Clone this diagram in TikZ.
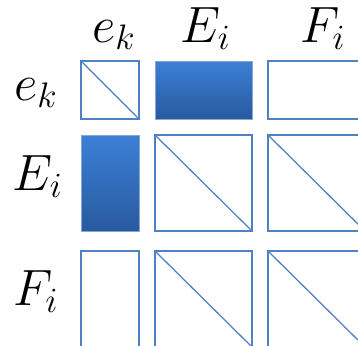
\documentclass[tikz,border=0pt]{standalone}
\usepackage{tikz}
\usetikzlibrary{shadows}
\definecolor{blocktop}{RGB}{60,128,214}
\definecolor{blockbottom}{RGB}{40,90,158}
\definecolor{edgeblue}{RGB}{79,129,196}

\begin{document}
\begin{tikzpicture}[
        fullblock/.style={rectangle, draw=edgeblue!70!white, top color=blocktop, bottom color=blockbottom, line width=0.5pt, inner sep=0pt, drop shadow={shadow xshift=0.6pt, shadow yshift=-0.6pt, opacity=0.2}},
        openblock/.style={rectangle, draw=edgeblue, fill=white, line width=0.9pt, inner sep=0pt},
        diagline/.style={draw=edgeblue, line width=0.9pt},
        hdr/.style={font=\huge, scale=1.75, transform shape, inner sep=0pt, anchor=base}
    ]
        \useasboundingbox (0,0) rectangle (8.95,-8.625);

        % Column headers
        \node (hek) [hdr] at (2.85,-1.05) {$e_k$};
        \node (hEi) [hdr] at (5.15,-1.05) {$E_i$};
        \node (hFi) [hdr] at (8.075,-1.05) {$F_i$};

        % Row headers
        \node (rek) [hdr] at (0.9,-2.5) {$e_k$};
        \node (rEi) [hdr] at (0.95,-4.75) {$E_i$};
        \node (rFi) [hdr] at (0.9,-7.625) {$F_i$};

        % Row 1
        \node (ekek) [openblock, minimum width=1.45cm, minimum height=1.45cm] at (2.75,-2.25) {};
        \node (ekEi) [fullblock, minimum width=2.425cm, minimum height=1.45cm] at (5.0875,-2.25) {};
        \node (ekFi) [openblock, minimum width=2.425cm, minimum height=1.45cm] at (7.9125,-2.25) {};

        % Row 2
        \node (Eiek) [fullblock, minimum width=1.45cm, minimum height=2.4cm] at (2.75,-4.575) {};
        \node (EiEi) [openblock, minimum width=2.425cm, minimum height=2.4cm] at (5.0875,-4.575) {};
        \node (EiFi) [openblock, minimum width=2.425cm, minimum height=2.4cm] at (7.9125,-4.575) {};

        % Row 3
        \node (Fiek) [openblock, minimum width=1.45cm, minimum height=2.4cm] at (2.75,-7.475) {};
        \node (FiEi) [openblock, minimum width=2.425cm, minimum height=2.4cm] at (5.0875,-7.475) {};
        \node (FiFi) [openblock, minimum width=2.425cm, minimum height=2.4cm] at (7.9125,-7.475) {};

        % Diagonals
        \draw [diagline] (ekek.north west) -- (ekek.south east);
        \draw [diagline] (EiEi.north west) -- (EiEi.south east);
        \draw [diagline] (EiFi.north west) -- (EiFi.south east);
        \draw [diagline] (FiEi.north west) -- (FiEi.south east);
        \draw [diagline] (FiFi.north west) -- (FiFi.south east);
    \end{tikzpicture}
\end{document}
